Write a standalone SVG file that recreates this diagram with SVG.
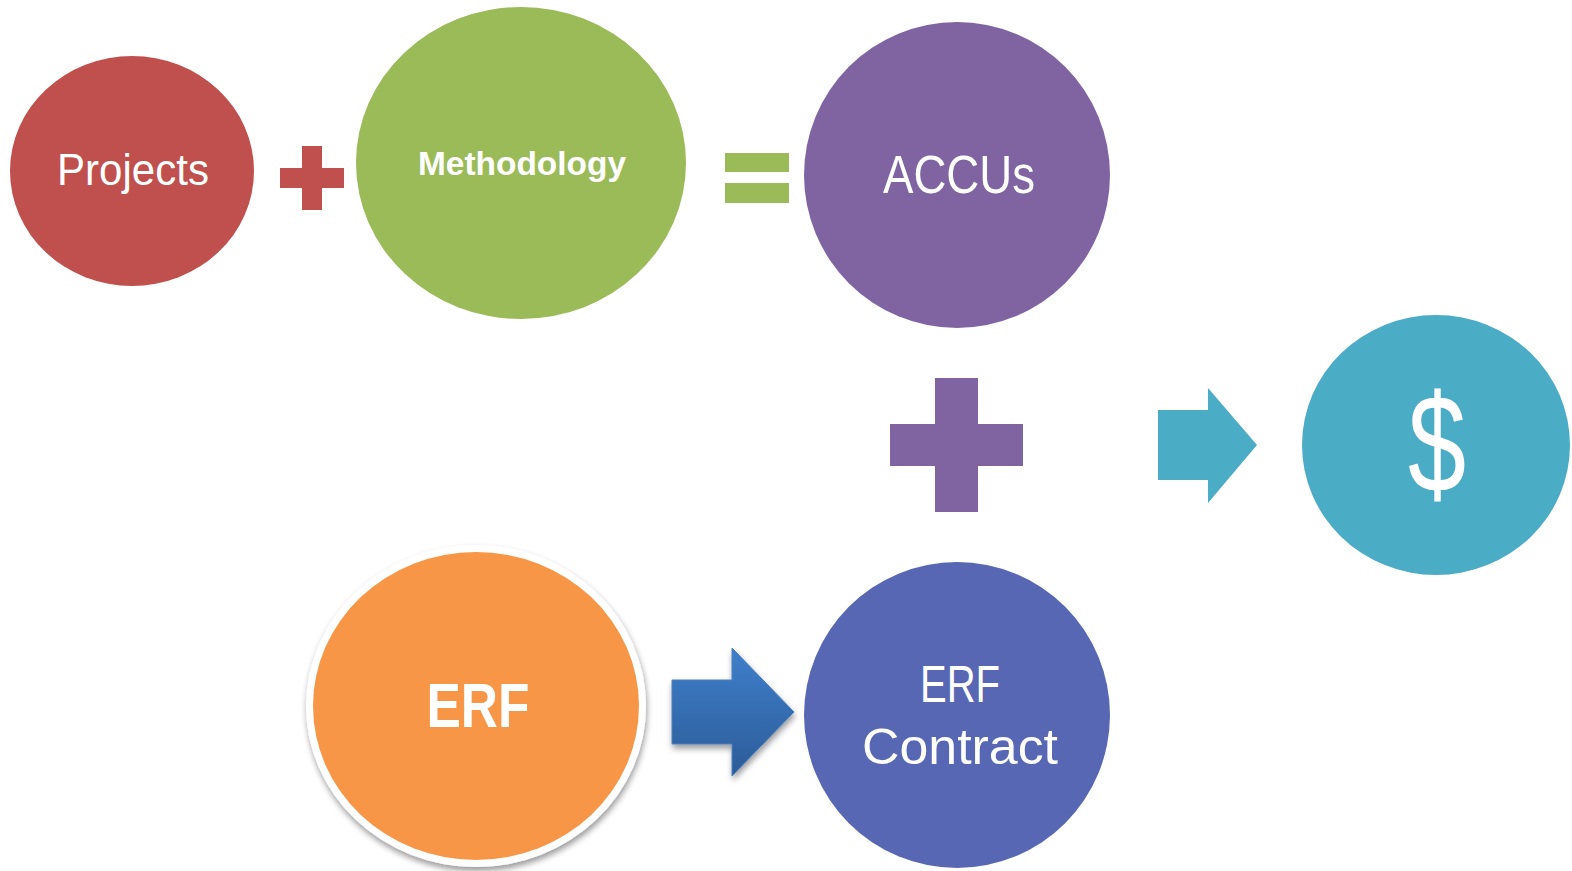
<svg xmlns="http://www.w3.org/2000/svg" width="1572" height="871" viewBox="0 0 1572 871">
<defs>
<linearGradient id="blueGrad" x1="0" y1="0" x2="0" y2="1">
<stop offset="0" stop-color="#3F7FCB"/>
<stop offset="1" stop-color="#2B5C98"/>
</linearGradient>
<filter id="shadow" x="-10%" y="-10%" width="120%" height="125%">
<feGaussianBlur in="SourceAlpha" stdDeviation="3"/>
<feOffset dx="1" dy="4"/>
<feComponentTransfer><feFuncA type="linear" slope="0.4"/></feComponentTransfer>
<feMerge><feMergeNode/><feMergeNode in="SourceGraphic"/></feMerge>
</filter>
</defs>
<style>
text{font-family:"Liberation Sans",Arial,sans-serif;fill:#FFFFFF;text-anchor:middle}
.b{font-weight:bold}
</style>
<rect width="1572" height="871" fill="#FFFFFF"/>
<g id="projects">
<ellipse cx="132" cy="171" rx="122" ry="115" fill="#C0504D"/>
<text x="133" y="185" font-size="45" textLength="152" lengthAdjust="spacingAndGlyphs">Projects</text>
</g>
<g id="methodology">
<ellipse cx="521" cy="163" rx="165" ry="156" fill="#9BBB59"/>
<text class="b" x="522" y="175" font-size="34" textLength="208" lengthAdjust="spacingAndGlyphs">Methodology</text>
</g>
<g id="accus">
<circle cx="957" cy="175" r="153" fill="#8064A2"/>
<text x="959" y="193" font-size="53" textLength="152" lengthAdjust="spacingAndGlyphs">ACCUs</text>
</g>
<g id="dollar">
<ellipse cx="1436" cy="445" rx="134" ry="130" fill="#4BACC6"/>
<text x="1437" y="492" font-size="140" textLength="58" lengthAdjust="spacingAndGlyphs">$</text>
</g>
<g id="erf">
<ellipse cx="476" cy="706" rx="170" ry="161" fill="#FFFFFF" filter="url(#shadow)"/>
<ellipse cx="476" cy="706" rx="163" ry="154" fill="#F79646"/>
<text class="b" x="478" y="727" font-size="63" textLength="103" lengthAdjust="spacingAndGlyphs">ERF</text>
</g>
<g id="erf-contract">
<circle cx="957" cy="715" r="153" fill="#5867B3"/>
<text x="960" y="702" font-size="52" textLength="80" lengthAdjust="spacingAndGlyphs">ERF</text>
<text x="960" y="764" font-size="50" textLength="196" lengthAdjust="spacingAndGlyphs">Contract</text>
</g>
<g id="connectors">
<path d="M302 146H322V168H344V188H322V210H302V188H280V168H302Z" fill="#C0504D"/>
<rect x="725" y="153" width="64" height="19" fill="#9BBB59"/>
<rect x="725" y="183" width="64" height="20" fill="#9BBB59"/>
<path d="M935 378H978V424H1023V466H978V512H935V466H890V424H935Z" fill="#8064A2"/>
<path d="M1158 410H1208V388L1257 445L1208 503V480H1158Z" fill="#4BACC6"/>
<path d="M672 680H732V648L794 712L732 776V744H672Z" fill="url(#blueGrad)" stroke="#4A7EC0" stroke-width="1" filter="url(#shadow)"/>
</g>
</svg>
